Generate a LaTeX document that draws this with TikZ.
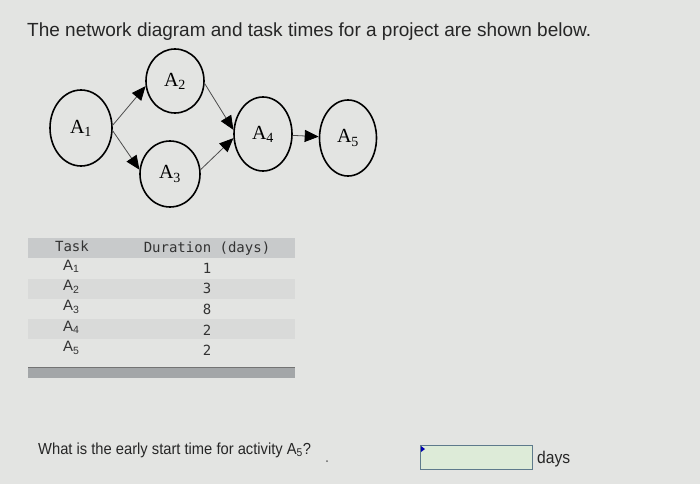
\documentclass[tikz,border=0pt]{standalone}
\usepackage{fontspec}
\setmainfont{Liberation Sans}
\newfontfamily\serifA{Liberation Serif}
\newfontfamily\monoA{DejaVu Sans Mono}
\newfontfamily\narrowA[FakeStretch=0.92]{Liberation Sans}
\usetikzlibrary{shapes.geometric,arrows.meta}
\definecolor{bg}{HTML}{E3E4E2}
\definecolor{hdr}{HTML}{C8CACB}
\definecolor{rowg}{HTML}{D9DAD9}
\definecolor{barg}{HTML}{A3A6A8}
\definecolor{boxfill}{HTML}{DDEBD8}
\definecolor{boxline}{HTML}{5E7A8C}
\tikzset{
  act/.style={ellipse, draw=black, line width=1.6pt, fill=bg, inner sep=0pt,
    font=\serifA\fontsize{20}{20}\selectfont},
  link/.style={draw=black!70, line width=0.8pt, -{Triangle[length=14pt,width=12pt,black]}},
  tab/.style={font=\monoA\fontsize{14}{14}\selectfont, text=black!80, inner sep=0pt},
  tlab/.style={font=\fontsize{15}{15}\selectfont, text=black!80, inner sep=0pt, anchor=west},
}
\begin{document}
\begin{tikzpicture}[x=1pt,y=-1pt]
\fill[bg] (0,0) rectangle (700,484);
\useasboundingbox (0,0) rectangle (700,484);
% title
\node[anchor=west, inner sep=0pt, font=\fontsize{19}{19}\selectfont, text=black!85] (title) at (27,32)
  {The network diagram and task times for a project are shown below.};
% network
\node[act, minimum width=62pt, minimum height=76pt] (a1) at (81,128) {A\textsubscript{1}};
\node[act, minimum width=58pt, minimum height=64pt] (a2) at (175,81) {A\textsubscript{2}};
\node[act, minimum width=60pt, minimum height=66pt] (a3) at (170,174) {A\textsubscript{3}};
\node[act, minimum width=58pt, minimum height=74pt] (a4) at (263,134) {A\textsubscript{4}};
\node[act, minimum width=57pt, minimum height=76pt] (a5) at (348,138) {A\textsubscript{5}};
\draw[link] (a1.5) -- (a2.190);
\draw[link] (a1.-5) -- (a3.172);
\draw[link] (a2.-5) -- (a4.172);
\draw[link] (a3.8) -- (a4.188);
\draw[link] (a4) -- (a5);
% table
\fill[hdr] (28,238) rectangle (295,258);
\fill[rowg] (28,279) rectangle (295,299);
\fill[rowg] (28,319) rectangle (295,339);
\fill[barg] (28,367) rectangle (295,378);
\draw[black!55, line width=1pt] (28,367) -- (295,367);
\node[tab] (th1) at (72,246) {Task};
\node[tab] (th2) at (207,249) {Duration (days)};
\node[tlab] (r1) at (63,266) {A\textsubscript{1}};
\node[tlab] (r2) at (63,287) {A\textsubscript{2}};
\node[tlab] (r3) at (63,307) {A\textsubscript{3}};
\node[tlab] (r4) at (63,327) {A\textsubscript{4}};
\node[tlab] (r5) at (63,348) {A\textsubscript{5}};
\node[tab] (d1) at (207,268) {1};
\node[tab] (d2) at (207,288) {3};
\node[tab] (d3) at (207,309) {8};
\node[tab] (d4) at (207,330) {2};
\node[tab] (d5) at (207,350) {2};
% question
\node[anchor=west, inner sep=0pt, font=\narrowA\fontsize{16}{16}\selectfont, text=black!85] (q) at (38,450)
  {What is the early start time for activity A\textsubscript{5}?};
\fill[black!60] (327,461) circle (1pt);
\draw[boxline, fill=boxfill, line width=1pt] (420,445) rectangle (532,469);
\fill[blue!70!black] (421,446) -- (425,449) -- (421,452) -- cycle;
\node[anchor=west, inner sep=0pt, font=\narrowA\fontsize{17}{17}\selectfont, text=black!85] (days) at (537,459) {days};
\end{tikzpicture}
\end{document}
